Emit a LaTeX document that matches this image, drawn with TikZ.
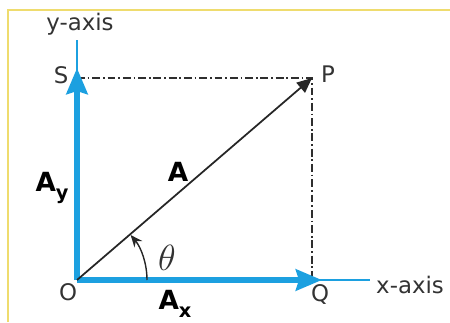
\documentclass[tikz,border=0pt]{standalone}
\usepackage{fontspec}
\setmainfont{DejaVu Sans}
\usetikzlibrary{arrows.meta}
\definecolor{frame-gold}{HTML}{EFDC6E}
\definecolor{axis-blue}{HTML}{1CA0E0}
\definecolor{guide-gray}{HTML}{2E2E2E}

\begin{document}
\begin{tikzpicture}[x=0.02cm, y=0.02cm,
    every node/.style={font=\fontsize{13}{15}\selectfont, text=black!80, inner sep=1pt},
    axisline/.style={axis-blue, line width=1.2pt},
    component/.style={axis-blue, line width=3.4pt,
      -{Stealth[length=0.52cm, width=0.42cm, inset=0.06cm]}},
    resultant/.style={black!85, line width=1pt,
      -{Triangle[length=0.3cm, width=0.26cm]}},
    guide/.style={guide-gray, line width=0.8pt,
      dash pattern=on 4.5pt off 1.6pt on 1pt off 1.6pt},
    vlabel/.style={font=\fontsize{15}{17}\selectfont\bfseries, text=black}]
  \useasboundingbox (0,0) rectangle (450,322);
  % frame
  \draw[frame-gold, line width=1.2pt] (8,0) -- (8,312) -- (450,312);

  \coordinate (O) at (77,42);
  \coordinate (S) at (77,244);
  \coordinate (P) at (312,244);
  \coordinate (Q) at (312,42);
  \coordinate (Ytip) at (77,254);
  \coordinate (Xtip) at (322,42);
  \coordinate (Yend) at (77,282);
  \coordinate (Xend) at (370,42);

  % thin axes
  \draw[axisline] (O) -- (Yend);
  \draw[axisline] (O) -- (Xend);
  % projections
  \draw[guide] (S) -- (P) -- (Q);
  % components
  \draw[component] (O) -- (Ytip);
  \draw[component] (O) -- (Xtip);
  % resultant
  \draw[resultant] (O) -- (P);
  \draw[black!85, line width=0.8pt, -{Stealth[length=0.24cm, width=0.2cm]}]
    ([shift={(70,0)}]O) arc (0:40:70);

  \node (yaxis) at (80,298) {y-axis};
  \node (xaxis) at (410,37) {x-axis};
  \node (Slab) at (61,247) {S};
  \node (Plab) at (328,248) {P};
  \node (Olab) at (68,30) {O};
  \node (Qlab) at (320,28) {Q};
  \node[vlabel] (Alab) at (178,150) {A};
  \node[vlabel] (Aylab) at (52,134) {A\raisebox{-0.55ex}{\fontsize{11}{11}\selectfont y}};
  \node[vlabel] (Axlab) at (175,18) {A\raisebox{-0.55ex}{\fontsize{11}{11}\selectfont x}};
  \node[font=\fontsize{20}{22}\selectfont] (theta) at (167,64) {$\theta$};
\end{tikzpicture}
\end{document}
